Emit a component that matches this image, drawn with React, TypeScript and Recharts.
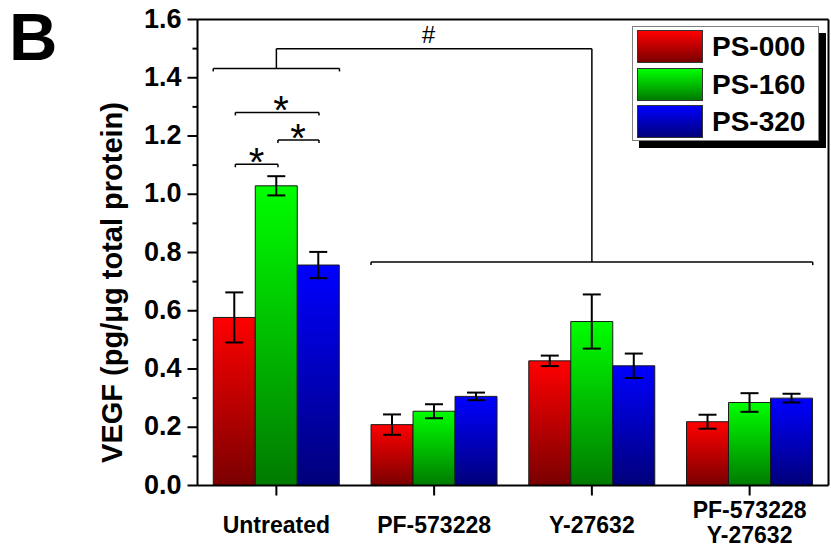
import React from "react";
import {
  BarChart,
  Bar,
  XAxis,
  YAxis,
  ErrorBar,
  ReferenceLine,
  ReferenceDot,
  Customized,
} from "recharts";

const FONT = '"Liberation Sans", Arial, Helvetica, sans-serif';

// groups along the x axis (1..4), "\n" splits a label over two lines
const categories = ["Untreated", "PF-573228", "Y-27632", "PF-573228\nY-27632"];

const ps000 = [0.577, 0.209, 0.428, 0.219];
const ps000Err = [0.086, 0.035, 0.018, 0.024];
const ps160 = [1.029, 0.255, 0.563, 0.285];
const ps160Err = [0.033, 0.024, 0.093, 0.032];
const ps320 = [0.757, 0.306, 0.411, 0.3];
const ps320Err = [0.045, 0.013, 0.042, 0.015];

const seriesNames = ["PS-000", "PS-160", "PS-320"];
const seriesTop = ["#ff0000", "#00ff00", "#0000ff"];
const seriesBottom = ["#7a0000", "#007a00", "#00007a"];

const yTicks = [
  0, 0.1, 0.2, 0.3, 0.4, 0.5, 0.6, 0.7, 0.8, 0.9, 1.0, 1.1, 1.2, 1.3, 1.4, 1.5,
  1.6,
];

// significance brackets, in data units (x = group position, y = VEGF)
const brackets = [
  { x1: 0.6, x2: 1.4, y: 1.432 },
  { x1: 1.6, x2: 4.4, y: 0.767 },
  { x1: 0.74, x2: 1.27, y: 1.281 },
  { x1: 1.01, x2: 1.27, y: 1.186 },
  { x1: 0.74, x2: 1.01, y: 1.103 },
];
const hashLink = [
  { x: 1, y: 1.432 },
  { x: 1, y: 1.5 },
  { x: 3, y: 1.5 },
  { x: 3, y: 0.767 },
];
const marks = [
  { x: 1.963, y: 1.518, text: "#", size: 24, italic: true },
  { x: 1.029, y: 1.241, text: "*", size: 40, italic: false },
  { x: 1.137, y: 1.146, text: "*", size: 40, italic: false },
  { x: 0.875, y: 1.062, text: "*", size: 40, italic: false },
];

const data = categories.map((c, i) => ({
  x: i + 1,
  name: c,
  ps000: ps000[i],
  ps000Err: ps000Err[i],
  ps160: ps160[i],
  ps160Err: ps160Err[i],
  ps320: ps320[i],
  ps320Err: ps320Err[i],
}));

const YTick = (props: any) => {
  const { x, y, payload } = props;
  const v = payload.value as number;
  const major = Math.round(v * 10) % 2 === 0;
  return (
    <g>
      <line x1={x + (major ? 6 : 11)} x2={x + 16} y1={y} y2={y} stroke="#000" strokeWidth={2} />
      {major && (
        <text x={x} y={y} dy={8} textAnchor="end" fontFamily={FONT} fontWeight="bold" fontSize={27} fill="#000">
          {v.toFixed(1)}
        </text>
      )}
    </g>
  );
};

const XTick = (props: any) => {
  const { x, y, payload } = props;
  const label = categories[payload.value - 1] || "";
  const lines = label.split("\n");
  return (
    <g>
      <line x1={x} x2={x} y1={y - 10} y2={y} stroke="#000" strokeWidth={2} />
      {lines.map((l: string, i: number) => (
        <text
          key={i}
          x={x}
          y={y + (lines.length === 1 ? 37.5 : 22.5 + i * 25)}
          textAnchor="middle"
          fontFamily={FONT}
          fontWeight="bold"
          fontSize={23}
          fill="#000"
        >
          {l}
        </text>
      ))}
    </g>
  );
};

const YTitle = (props: any) => {
  const vb = props.viewBox;
  const cx = 111.5;
  const cy = vb.y + vb.height / 2 + 30;
  return (
    <text
      x={cx}
      y={cy}
      transform={`rotate(-90 ${cx} ${cy})`}
      textAnchor="middle"
      dominantBaseline="central"
      fontFamily={FONT}
      fontWeight="bold"
      fontSize={29}
      fill="#000"
    >
      VEGF (pg/μg total protein)
    </text>
  );
};

const PanelLetter = () => (
  <text x={9} y={60} fontFamily={FONT} fontWeight="bold" fontSize={67} fill="#000">
    B
  </text>
);

const tickDrop = 0.0103;

function Legend() {
  return (
    <div
      style={{
        position: "absolute",
        left: 632,
        top: 26,
        width: 187,
        height: 115,
        boxSizing: "border-box",
        border: "1px solid #808080",
        background: "#fff",
        boxShadow: "7px 7px 0 #000",
        fontFamily: FONT,
      }}
    >
      {seriesNames.map((n, i) => (
        <div
          key={n}
          style={{
            position: "absolute",
            left: 4,
            top: 3 + i * 37.5,
            height: 33,
            display: "flex",
            alignItems: "center",
          }}
        >
          <div
            style={{
              width: 66,
              height: 33,
              boxSizing: "border-box",
              border: "1px solid #333",
              background: `linear-gradient(to bottom, ${seriesTop[i]}, ${seriesBottom[i]})`,
            }}
          />
          <span style={{ marginLeft: 9, fontSize: 28, fontWeight: "bold", color: "#000", lineHeight: "33px" }}>{n}</span>
        </div>
      ))}
    </div>
  );
}

export default function App() {
  const keys = ["ps000", "ps160", "ps320"];
  return (
    <div style={{ position: "absolute", left: 0, top: 0, width: 831, height: 558, background: "#fff" }}>
      <BarChart
        width={831}
        height={558}
        data={data}
        margin={{ top: 19.5, right: 2.5, bottom: 0, left: 0 }}
        barCategoryGap="10%"
        barGap={0}
      >
        <defs>
          {keys.map((k, i) => (
            <linearGradient key={k} id={`grad-${k}`} x1="0" y1="0" x2="0" y2="1">
              <stop offset="0%" stopColor={seriesTop[i]} />
              <stop offset="100%" stopColor={seriesBottom[i]} />
            </linearGradient>
          ))}
        </defs>
        <XAxis
          dataKey="x"
          type="number"
          domain={[0.5, 4.5]}
          ticks={[1, 2, 3, 4]}
          height={72.5}
          tickSize={10}
          tickMargin={0}
          tickLine={false}
          axisLine={{ stroke: "#000", strokeWidth: 2 }}
          tick={<XTick />}
          interval={0}
        />
        <YAxis
          domain={[0, 1.6]}
          ticks={yTicks}
          width={197.5}
          tickSize={10}
          tickMargin={6}
          tickLine={false}
          axisLine={{ stroke: "#000", strokeWidth: 2 }}
          tick={<YTick />}
          interval={0}
          allowDataOverflow
          label={(p: any) => <YTitle {...p} />}
        />
        <ReferenceLine y={1.6} stroke="#000" strokeWidth={2} ifOverflow="visible" />
        <ReferenceLine x={4.5} stroke="#000" strokeWidth={2} ifOverflow="visible" />
        {keys.map((k) => (
          <Bar key={k} dataKey={k} fill={`url(#grad-${k})`} stroke="#1a1a1a" strokeWidth={1} isAnimationActive={false}>
            <ErrorBar dataKey={`${k}Err`} width={9} stroke="#000" strokeWidth={2} direction="y" />
          </Bar>
        ))}
        {brackets.map((b, i) => (
          <React.Fragment key={`b${i}`}>
            <ReferenceLine segment={[{ x: b.x1, y: b.y }, { x: b.x2, y: b.y }]} stroke="#000" strokeWidth={1.5} ifOverflow="visible" />
            <ReferenceLine segment={[{ x: b.x1, y: b.y }, { x: b.x1, y: b.y - tickDrop }]} stroke="#000" strokeWidth={1.5} ifOverflow="visible" />
            <ReferenceLine segment={[{ x: b.x2, y: b.y }, { x: b.x2, y: b.y - tickDrop }]} stroke="#000" strokeWidth={1.5} ifOverflow="visible" />
          </React.Fragment>
        ))}
        {hashLink.slice(1).map((p, i) => (
          <ReferenceLine
            key={`h${i}`}
            segment={[{ x: hashLink[i].x, y: hashLink[i].y }, { x: p.x, y: p.y }]}
            stroke="#000"
            strokeWidth={1.5}
            ifOverflow="visible"
          />
        ))}
        {marks.map((m, i) => (
          <ReferenceDot
            key={`m${i}`}
            x={m.x}
            y={m.y}
            r={0}
            ifOverflow="visible"
            shape={(p: any) => (
              <text
                x={p.cx}
                y={p.cy}
                textAnchor="middle"
                fontFamily={FONT}
                fontSize={m.size}
                fontStyle={m.italic ? "italic" : "normal"}
                fill="#000"
              >
                {m.text}
              </text>
            )}
          />
        ))}
        <Customized component={PanelLetter} />
      </BarChart>
      <Legend />
    </div>
  );
}
